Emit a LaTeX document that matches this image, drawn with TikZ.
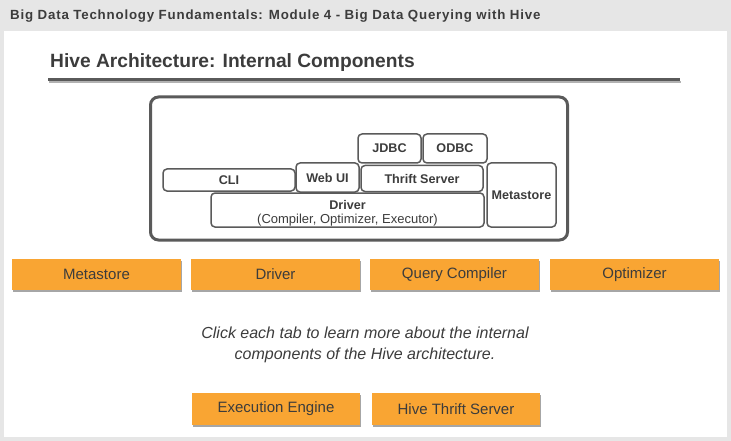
\documentclass[tikz,border=0pt]{standalone}
\usepackage{fontspec}
\setmainfont{Liberation Sans}
\newfontfamily\headerfont[LetterSpace=6]{Liberation Sans}
\usetikzlibrary{positioning,shadows}

\definecolor{pagegray}{HTML}{E6E6E6}
\definecolor{boxgray}{HTML}{5A5A5A}
\definecolor{textgray}{HTML}{3C3C3C}
\definecolor{taborange}{HTML}{F9A533}

\tikzstyle{part} = [rectangle, draw=boxgray, line width=1.5pt, rounded corners=4pt,
text=textgray, font=\fontsize{12.6}{14}\selectfont\bfseries, inner sep=1pt]
\tikzstyle{tab} = [rectangle, fill=taborange, minimum width=169pt, minimum height=31pt,
text=textgray, font=\fontsize{15}{17}\selectfont,
drop shadow={shadow xshift=1pt, shadow yshift=-2pt, opacity=0.35, fill=black}]

\begin{document}
\begin{tikzpicture}[x=1pt, y=-1pt]
		\useasboundingbox [fill=pagegray] (0,0) rectangle (731,441);
		\fill [white] (4,31) rectangle (727,437);
		
		\node [anchor=west, text=textgray, font=\headerfont\fontsize{13.3}{15}\selectfont\bfseries, inner sep=0pt] (Header) at (10,16) {Big Data Technology Fundamentals: Module 4 - Big Data Querying with Hive};
		\node [anchor=west, text=textgray, font=\fontsize{19.2}{22}\selectfont\bfseries, inner sep=0pt] (Title) at (50,63) {Hive Architecture: Internal Components};
		\draw [gray!60, line width=2pt] (49,82) -- (681,82);
		\draw [boxgray, line width=3pt] (48,80) -- (680,80);
		
		% architecture sketch
		\node [draw=boxgray, line width=3pt, rounded corners=8pt, minimum width=417pt, minimum height=143pt] (Hive) at (359,168.5) {};
		\node [part, minimum width=63pt, minimum height=29pt] (JDBC) at (389.5,148.5) {JDBC};
		\node [part, minimum width=64pt, minimum height=29pt] (ODBC) at (455,148.5) {ODBC};
		\node [part, minimum width=132pt, minimum height=22pt] (CLI) at (229,180) {CLI};
		\node [part, minimum width=63pt, minimum height=29pt] (WebUI) at (327.5,177.5) {Web UI};
		\node [part, minimum width=122pt, minimum height=26pt] (Thrift) at (422,178.5) {Thrift Server};
		\node [part, minimum width=69pt, minimum height=64pt] (Metastore) at (521.5,195) {Metastore};
		\node [part, minimum width=273pt, minimum height=34pt] (Driver) at (347.5,210) {};
		\node [align=center, text=textgray, font=\fontsize{12.6}{14}\selectfont\bfseries, inner sep=0pt] (DriverText) at ([yshift=-3.5pt]Driver.center) {Driver\\[0pt]{\mdseries\fontsize{13}{14}\selectfont (Compiler, Optimizer, Executor)}};
		
		% tabs
		\node [tab] (TabMetastore) at (96.5,274.5) {Metastore};
		\node [tab] (TabDriver) at (275.5,274.5) {Driver};
		\node [tab] (TabCompiler) at (454.5,274.5) {Query Compiler};
		\node [tab] (TabOptimizer) at (634.5,274.5) {Optimizer};
		
		\node [align=center, text=textgray, font=\fontsize{16}{21}\selectfont\itshape] (Hint) at (365,345) {Click each tab to learn more about the internal\\components of the Hive architecture.};
		
		\node [tab, minimum width=168pt, minimum height=32pt] (TabEngine) at (276,409) {Execution Engine};
		\node [tab, minimum width=168pt, minimum height=32pt] (TabServer) at (456,409) {Hive Thrift Server};
	\end{tikzpicture}
\end{document}
